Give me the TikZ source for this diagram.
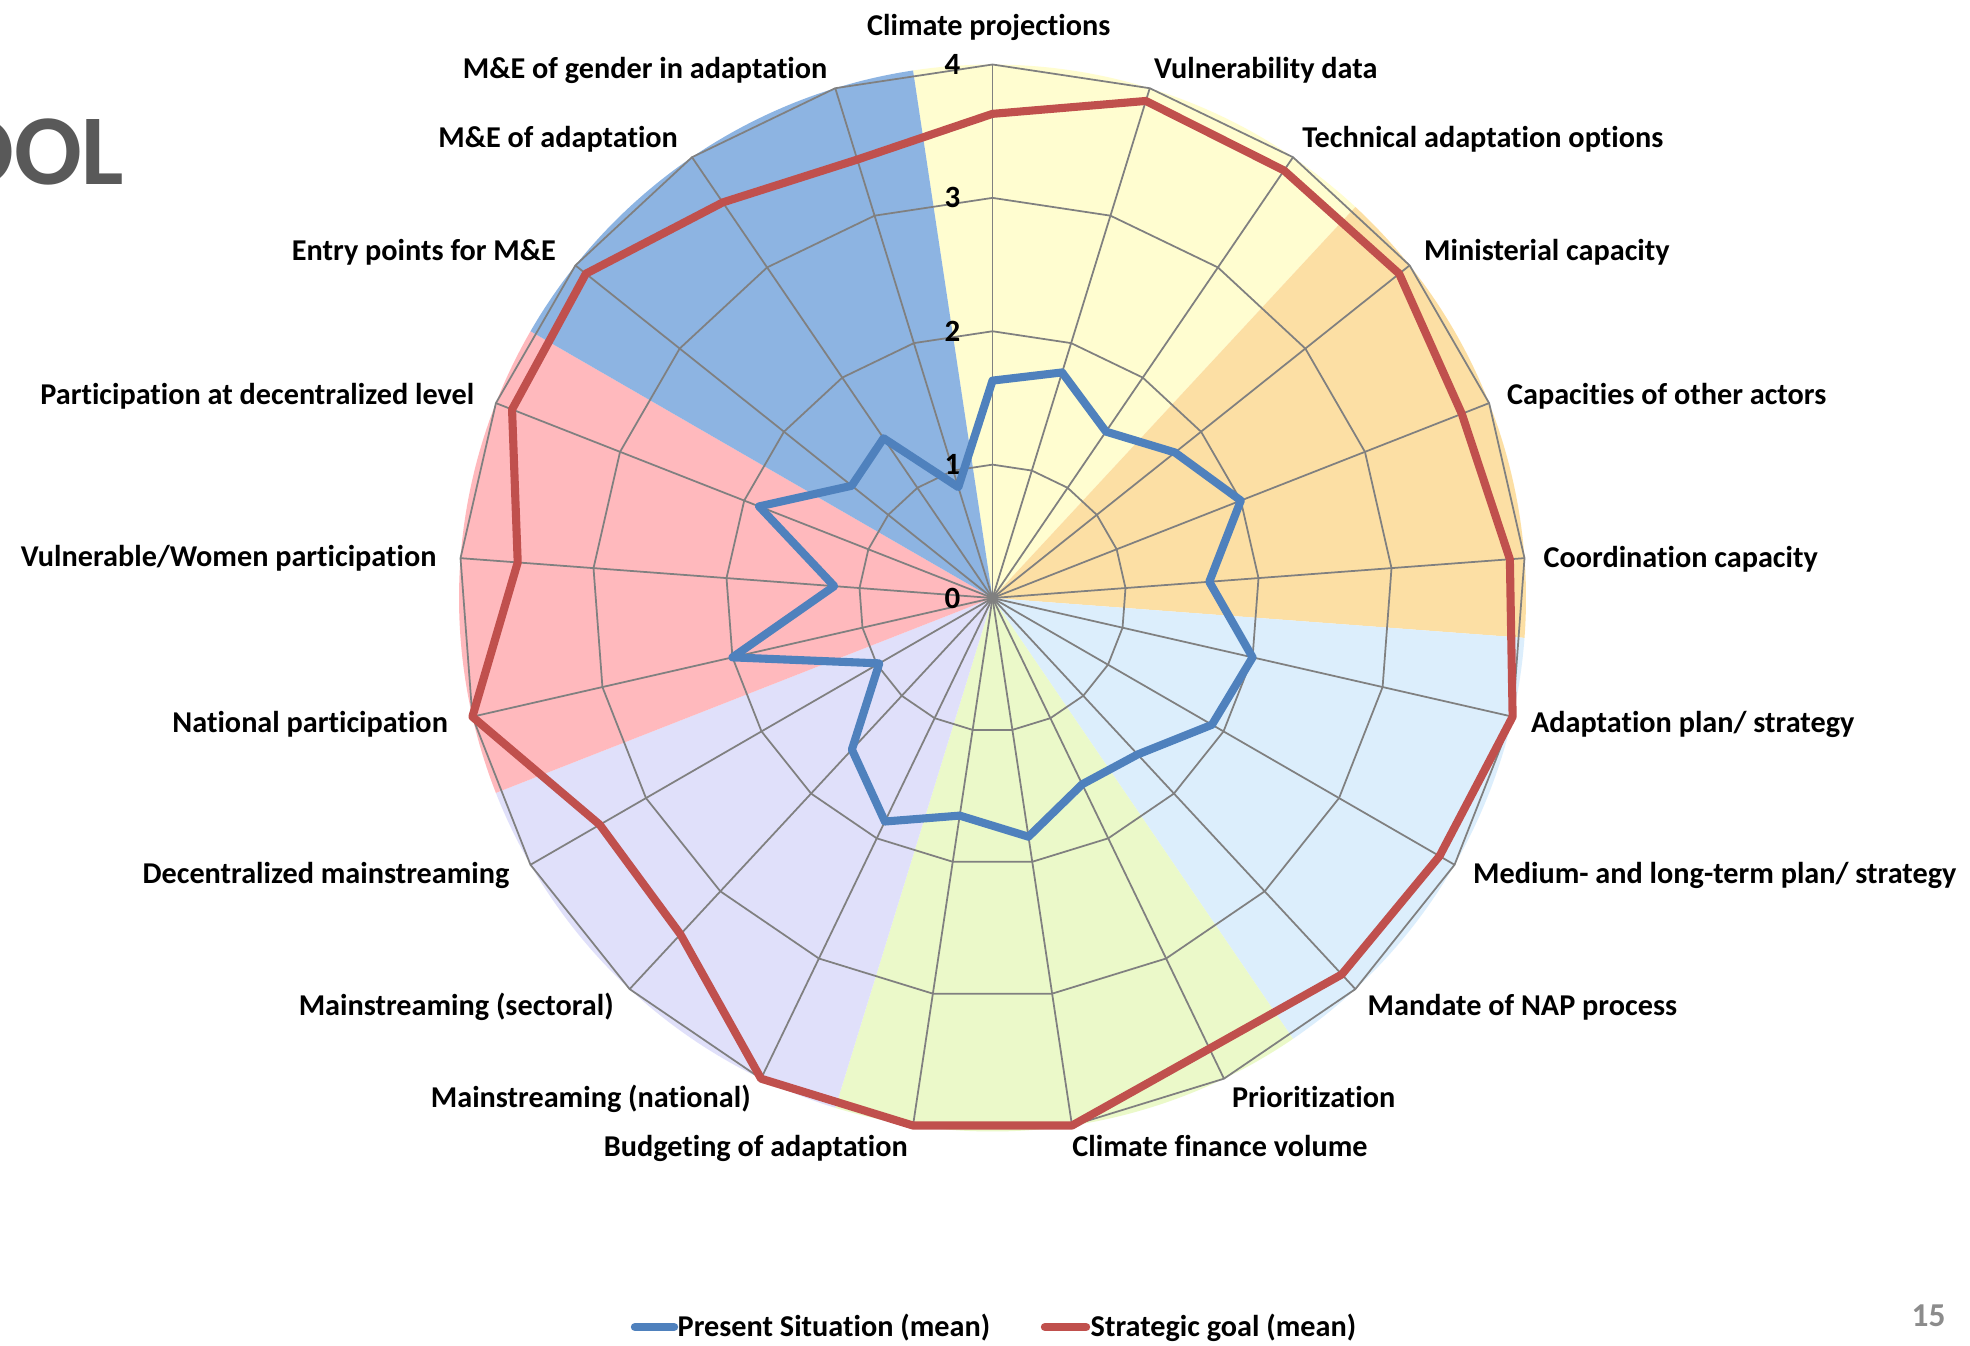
\documentclass[tikz,border=0pt]{standalone}
\usepackage{fontspec}
\setmainfont{Carlito}[Ligatures=NoCommon]

\definecolor{presentblue}{HTML}{4F81BD}
\definecolor{goalred}{HTML}{C0504D}
\definecolor{gridgray}{HTML}{808080}
\definecolor{fillyellow}{HTML}{FFFDD0}
\definecolor{fillorange}{HTML}{FCDFA4}
\definecolor{fillsky}{HTML}{DCEEFC}
\definecolor{fillgreen}{HTML}{EBF9C9}
\definecolor{filllav}{HTML}{E0E0FA}
\definecolor{fillpink}{HTML}{FFB9BD}
\definecolor{fillblue}{HTML}{8DB4E2}
\definecolor{titlegray}{HTML}{595959}
\definecolor{pagegray}{HTML}{8C8C8C}

\tikzset{
  axislabel/.style={font=\bfseries\fontsize{8.6}{10}\selectfont, inner sep=0pt},
  ticklabel/.style={font=\bfseries\fontsize{8.8}{10}\selectfont, inner sep=0pt},
  titletext/.style={font=\bfseries\fontsize{28.5}{30}\selectfont, text=titlegray, inner sep=0pt},
  gridline/.style={gridgray, line width=0.5pt},
  series/.style={line width=2.3pt, line join=round},
}

\begin{document}
\begin{tikzpicture}[x=0.01cm, y=-0.01cm]
  \useasboundingbox (0,0) rectangle (1970,1345);
  \fill[white] (0,0) rectangle (1970,1345);

  \node[titletext, anchor=east] (title) at (125,152) {OOL};

  \begin{scope}[shift={(992.5,598)}, x=1.333cm, y=1.333cm]
    % coloured groups of three axes
    \foreach \col [count=\i from 0] in {fillyellow, fillorange, fillsky, fillgreen, filllav, fillpink, fillblue}
      \fill[\col] (0,0) -- ({98.571-51.429*\i}:4)
        arc[start angle={98.571-51.429*\i}, delta angle=-51.429, radius=4] -- cycle;

    % web
    \foreach \r in {1,...,4}
      \draw[gridline] (90:\r) \foreach \k in {1,...,20} { -- ({90-\k*360/21}:\r) } -- cycle;
    \foreach \k in {0,...,20}
      \draw[gridline] (0,0) -- ({90-\k*360/21}:4);
    \foreach \t in {0,...,4}
      \node[ticklabel] (tick\t) at (-0.3,\t) {\t};

    % present situation and strategic goal
    \draw[series, presentblue] (90:1.63)
      \foreach \v [count=\k] in {1.77,1.51,1.75,2.0,1.63,2.0,1.9,1.6,1.55,1.81,1.65,1.86,1.55,0.98,2.0,1.19,1.88,1.35,1.45,0.87}
      { -- ({90-\k*360/21}:\v) } -- cycle;
    \draw[series, goalred] (90:3.63)
      \foreach \v [count=\k] in {3.9,3.88,3.9,3.78,3.89,4.0,3.87,3.85,3.75,4.0,4.0,4.0,3.44,3.4,4.0,3.57,3.87,3.9,3.59,3.44}
      { -- ({90-\k*360/21}:\v) } -- cycle;
  \end{scope}

  % axis labels
  \node[axislabel, anchor=base] (climproj) at (988.8,35) {Climate projections};
  \node[axislabel, anchor=base west] (vulndata) at (1153.4,78) {Vulnerability data};
  \node[axislabel, anchor=base west] (techopt) at (1301.6,147) {Technical adaptation options};
  \node[axislabel, anchor=base west] (ministcap) at (1423.5,260) {Ministerial capacity};
  \node[axislabel, anchor=base west] (othercap) at (1506.4,404) {Capacities of other actors};
  \node[axislabel, anchor=base west] (coordcap) at (1542.9,567) {Coordination capacity};
  \node[axislabel, anchor=base west] (adaptplan) at (1530.3,732) {Adaptation plan/ strategy};
  \node[axislabel, anchor=base west] (medplan) at (1472.5,883) {Medium- and long-term plan/ strategy};
  \node[axislabel, anchor=base west] (mandate) at (1367,1015) {Mandate of NAP process};
  \node[axislabel, anchor=base west] (prior) at (1231.3,1107) {Prioritization};
  \node[axislabel, anchor=base west] (finvol) at (1071.7,1156) {Climate finance volume};
  \node[axislabel, anchor=base east] (budget) at (908.4,1156) {Budgeting of adaptation};
  \node[axislabel, anchor=base east] (mainnat) at (751.3,1107) {Mainstreaming (national)};
  \node[axislabel, anchor=base east] (mainsec) at (614.4,1015) {Mainstreaming (sectoral)};
  \node[axislabel, anchor=base east] (maindec) at (510.1,883) {Decentralized mainstreaming};
  \node[axislabel, anchor=base east] (natpart) at (448.5,732) {National participation};
  \node[axislabel, anchor=base east] (vulnpart) at (437.2,566) {Vulnerable/Women participation};
  \node[axislabel, anchor=base east] (decpart) at (474.9,404) {Participation at decentralized level};
  \node[axislabel, anchor=base east] (entrypts) at (556.6,260) {Entry points for M\&E};
  \node[axislabel, anchor=base east] (meadapt) at (678.5,147) {M\&E of adaptation};
  \node[axislabel, anchor=base east] (megender) at (828,78) {M\&E of gender in adaptation};

  % legend
  \coordinate (presentA) at (635,1327);
  \coordinate (presentB) at (674,1327);
  \coordinate (goalA) at (1045,1327);
  \coordinate (goalB) at (1086,1327);
  \draw[presentblue, line width=2.4pt, line cap=round] (presentA) -- (presentB);
  \draw[goalred, line width=2.4pt, line cap=round] (goalA) -- (goalB);
  \node[axislabel, anchor=base west] (presentleg) at (677,1336) {Present Situation (mean)};
  \node[axislabel, anchor=base west] (goalleg) at (1090,1336) {Strategic goal (mean)};

  \node[font=\bfseries\fontsize{9.5}{11}\selectfont, text=pagegray, inner sep=0pt] (pagenum) at (1928.6,1315.5) {15};
\end{tikzpicture}
\end{document}
